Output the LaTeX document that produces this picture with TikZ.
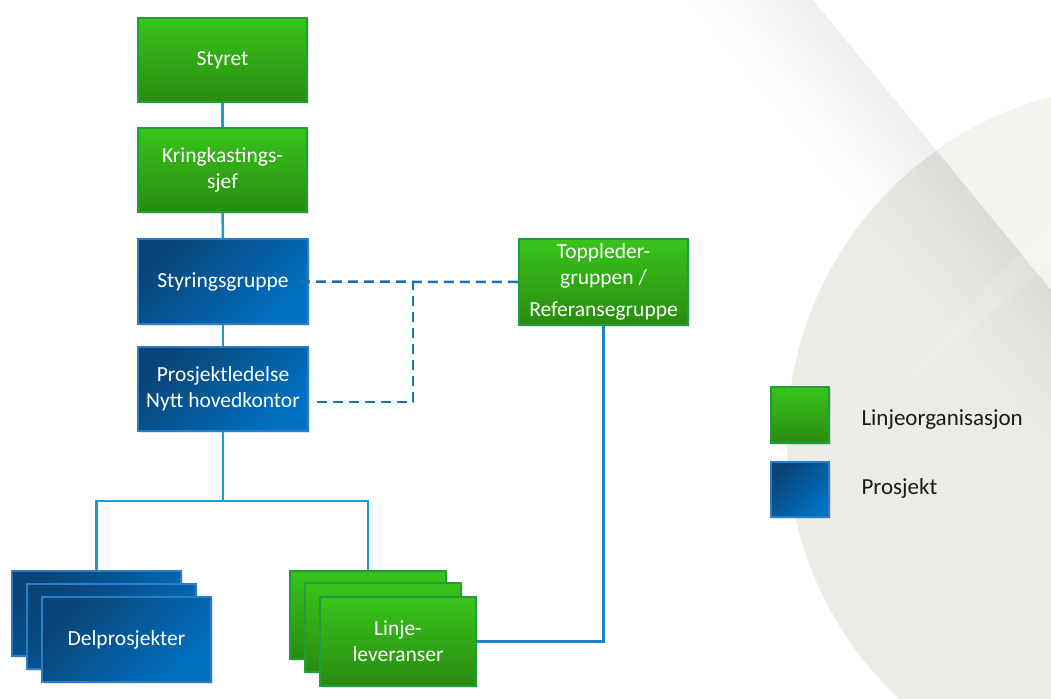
\documentclass[tikz,border=0pt]{standalone}
\usepackage{fontspec}
\setmainfont{Carlito}
\usetikzlibrary{calc,shadows}
\definecolor{gtop}{HTML}{38C41B}
\definecolor{gbot}{HTML}{2A8B10}
\definecolor{gline}{HTML}{1E9F3C}
\definecolor{bdark}{HTML}{0A4476}
\definecolor{blight}{HTML}{0071C2}
\definecolor{bline}{HTML}{2A7EC9}
\definecolor{conn}{HTML}{1E9BD2}
\definecolor{connb}{HTML}{1F82C4}
\definecolor{dashcol}{HTML}{1C73AC}
\definecolor{circ}{HTML}{ECEBE5}
\definecolor{bandc}{RGB}{90,90,110}
\definecolor{legtext}{HTML}{1A1A1A}
\begin{document}
\begin{tikzpicture}[x=1pt,y=-1pt,
  boxfont/.style={font=\fontsize{21.5}{26}\selectfont},
  shadowed/.style={drop shadow={shadow xshift=1.5pt,shadow yshift=-1.5pt,opacity=0.22}},
  gbox/.style={shadowed,draw=gline,line width=2pt,top color=gtop,bottom color=gbot,
    text=white,align=center,inner sep=0pt,boxfont},
  bbox/.style={shadowed,draw=bline,line width=1.5pt,top color=bdark,bottom color=blight,
    shading angle=45,text=white,align=center,inner sep=0pt,boxfont},
  conn/.style={draw=conn,line width=2.5pt},
  connb/.style={draw=connb,line width=2.5pt},
  dashc/.style={draw=dashcol,line width=2.5pt,dash pattern=on 10pt off 6pt},
  legfont/.style={font=\fontsize{23}{28}\selectfont,text=legtext,anchor=west}]
\useasboundingbox (0,0) rectangle (1051,698);
\fill[white] (0,0) rectangle (1051,698);
% background decoration
\begin{scope}
  \clip (0,0) rectangle (1051,698);
  \fill[circ] (1142,440) circle (355pt);
  \coordinate (Pa) at (741.6,-87);
  \coordinate (Pb) at (1170,435);
  \foreach \i in {1,...,16}{
    \fill[bandc,opacity=0.0055] (Pa) -- (Pb) -- ($(Pb)+{\i*6}*(-0.773,0.635)$) -- ($(Pa)+{\i*6}*(-0.773,0.635)$) -- cycle;
  }
  \begin{scope}
    \clip (1142,440) circle (355pt);
    \fill[white,opacity=0.4] (Pa) -- (Pb) -- (1300,435) -- (1300,-87) -- cycle;
    \fill[white,opacity=0.15] (830,452) -- (1051,222) -- (1051,262) -- cycle;
  \end{scope}
\end{scope}
% nodes
\node[gbox,minimum width=169pt,minimum height=84pt] (styret) at (222.5,60) {Styret};
\node[gbox,minimum width=169pt,minimum height=84pt] (kring) at (222.5,170) {Kringkastings-\\sjef};
\node[bbox,minimum width=170pt,minimum height=85pt] (styr) at (223,281.5) {Styringsgruppe};
\node[bbox,minimum width=170pt,minimum height=84pt] (pl) at (223,389) {Prosjektledelse\\Nytt hovedkontor};
\node[gbox,minimum width=169pt,minimum height=86pt] (topp) at (603.5,282) {Toppleder-\\gruppen /\\[6pt]Referansegruppe};
\node[bbox,minimum width=169pt,minimum height=85pt] (del1) at (96.5,613.5) {};
\node[bbox,minimum width=169pt,minimum height=85pt] (del2) at (111.5,626.5) {};
\node[bbox,minimum width=169pt,minimum height=85pt] (del3) at (126.5,639.5) {Delprosjekter};
\node[gbox,minimum width=156pt,minimum height=88pt] (lin1) at (368,615) {};
\node[gbox,minimum width=156pt,minimum height=89pt] (lin2) at (383,627.5) {};
\node[gbox,minimum width=156pt,minimum height=89pt] (lin3) at (398,641.5) {Linje-\\leveranser};
% legend
\node[gbox,minimum width=58pt,minimum height=56pt] (lg) at (800,415) {};
\node[bbox,minimum width=58pt,minimum height=55pt] (lb) at (800,489.5) {};
\node[legfont] (lgt) at (858,420) {Linjeorganisasjon};
\node[legfont] (lbt) at (858,488) {Prosjekt};
% connectors
\coordinate (j) at (223,501);
\coordinate (dj) at (413,281.5);
\draw[conn] (styret) -- (kring);
\draw[conn] (kring) -- (styr);
\draw[conn] (styr) -- (pl);
\draw[conn] (pl.south) -- (j);
\draw[conn] (del1.north) |- (j) -| (lin1.north);
\draw[connb] (lin3.east) -| (topp.south);
\draw[dashc] ([xshift=-9pt]styr.east) -- (topp.west);
\draw[dashc] ([xshift=8pt,yshift=-13pt]pl.east) -| (dj);
\end{tikzpicture}
\end{document}
